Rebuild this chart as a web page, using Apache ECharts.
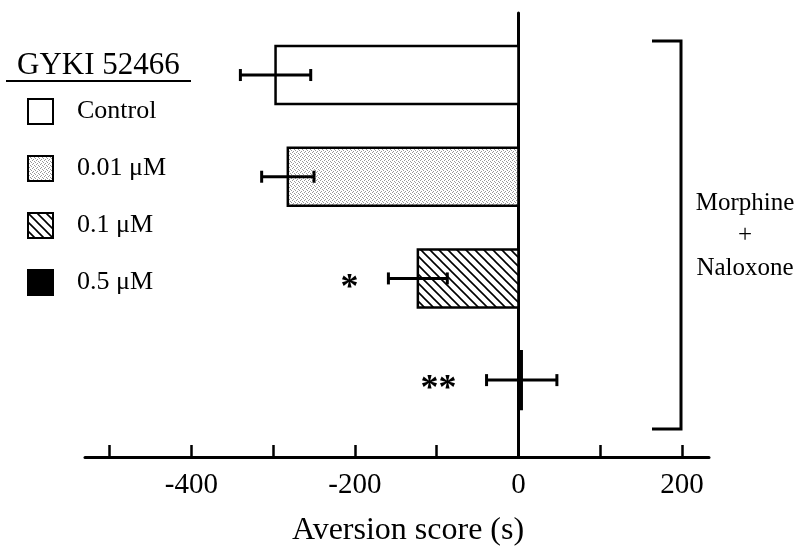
<!DOCTYPE html>
<html>
<head>
<meta charset="utf-8">
<script src="https://cdn.jsdelivr.net/npm/echarts@6/dist/echarts.min.js"></script>
<style>
html, body { margin: 0; padding: 0; background: #fff; }
#chart { width: 801px; height: 557px; }
</style>
</head>
<body>
<div id="chart"></div>
<script>
// data
var categories = ['Control', '0.01 μM', '0.1 μM', '0.5 μM'];
var means = [-297, -282, -123, 4];
var errors = [43, 32, 36, 43];
var stars = ['', '', '*', '**'];
var tickValues = [-500, -400, -300, -200, -100, 0, 100, 200];
var labelValues = [-400, -200, 0, 200];

var serif = '"Liberation Serif", "DejaVu Serif", serif';

// fill patterns
function dotCanvas() {
    var c = document.createElement('canvas');
    c.width = 4; c.height = 4;
    var ctx = c.getContext('2d');
    ctx.fillStyle = '#fff';
    ctx.fillRect(0, 0, 4, 4);
    ctx.fillStyle = '#999';
    [[0, 0], [2, 1], [1, 3], [3, 2]].forEach(function (p) {
        ctx.fillRect(p[0], p[1], 1, 1);
    });
    return c;
}
function hatchCanvas() {
    var s = 9;
    var c = document.createElement('canvas');
    c.width = s; c.height = s;
    var ctx = c.getContext('2d');
    ctx.fillStyle = '#fff';
    ctx.fillRect(0, 0, s, s);
    ctx.strokeStyle = '#000';
    ctx.lineWidth = 1.6;
    ctx.beginPath();
    ctx.moveTo(-1, -1); ctx.lineTo(s + 1, s + 1);
    ctx.moveTo(-1, s - 1); ctx.lineTo(1, s + 1);
    ctx.moveTo(s - 1, -1); ctx.lineTo(s + 1, 1);
    ctx.stroke();
    return c;
}

var fills = [
    '#fff',
    { image: dotCanvas(), repeat: 'repeat' },
    { image: hatchCanvas(), repeat: 'repeat' },
    '#000'
];

function renderBar(params, api) {
    var i = api.value(0), v = api.value(1), e = api.value(2);
    var p0 = api.coord([0, i]);
    var p1 = api.coord([v, i]);
    var lo = api.coord([v - e, i]);
    var hi = api.coord([v + e, i]);
    var h = api.size([0, 0.57])[1];
    var y = p0[1];
    var cap = 6;
    var children = [{
        type: 'rect',
        shape: { x: Math.min(p0[0], p1[0]), y: y - h / 2, width: Math.abs(p1[0] - p0[0]), height: h },
        style: { fill: fills[i], stroke: '#000', lineWidth: 2.5 }
    }, {
        type: 'line',
        shape: { x1: lo[0], y1: y, x2: hi[0], y2: y },
        style: { stroke: '#000', lineWidth: 3 }
    }, {
        type: 'line',
        shape: { x1: lo[0], y1: y - cap, x2: lo[0], y2: y + cap },
        style: { stroke: '#000', lineWidth: 3 }
    }, {
        type: 'line',
        shape: { x1: hi[0], y1: y - cap, x2: hi[0], y2: y + cap },
        style: { stroke: '#000', lineWidth: 3 }
    }];
    if (stars[i]) {
        children.push({
            type: 'text',
            style: {
                text: stars[i], x: lo[0] - 30, y: y + 10,
                align: 'right', verticalAlign: 'middle',
                font: 'bold 36px ' + serif, fill: '#000'
            }
        });
    }
    return { type: 'group', children: children };
}

var chart = echarts.init(document.getElementById('chart'));

var series = categories.map(function (name, i) {
    return {
        name: name,
        type: 'custom',
        renderItem: renderBar,
        clip: false,
        encode: { x: [1], y: [0] },
        data: [[i, means[i], errors[i]]]
    };
});

var option = {
    animation: false,
    backgroundColor: '#fff',
    title: {
        text: 'GYKI 52466',
        left: 17, top: 50, padding: 0,
        textStyle: { fontFamily: serif, fontSize: 31, fontWeight: 'normal', color: '#000' }
    },
    legend: {
        orient: 'vertical',
        left: 27, top: 98, padding: 0,
        itemWidth: 25, itemHeight: 25, itemGap: 30,
        icon: 'rect',
        selectedMode: false,
        textStyle: { fontFamily: serif, fontSize: 26, color: '#000', lineHeight: 25, padding: [0, 0, 0, 19] },
        data: categories.map(function (name, i) {
            return { name: name, itemStyle: { color: fills[i], borderColor: '#000', borderWidth: 2 } };
        })
    },
    grid: { left: 85, right: 92, top: 13, bottom: 100, containLabel: false },
    xAxis: {
        type: 'value',
        min: -530, max: 233,
        name: 'Aversion score (s)',
        nameLocation: 'middle',
        nameGap: 58,
        nameTextStyle: { fontFamily: serif, fontSize: 32, color: '#000', padding: [0, 0, 0, 22] },
        axisLine: { show: true, onZero: false, lineStyle: { color: '#000', width: 3 } },
        axisTick: { show: true, inside: true, length: 12, customValues: tickValues, lineStyle: { color: '#000', width: 2.5 } },
        axisLabel: { customValues: labelValues, fontFamily: serif, fontSize: 29, color: '#000', margin: 14 },
        splitLine: { show: false }
    },
    yAxis: {
        type: 'value',
        inverse: true,
        min: -0.61, max: 3.756,
        axisLine: { show: true, onZero: true, lineStyle: { color: '#000', width: 3 } },
        axisTick: { show: false },
        axisLabel: { show: false },
        splitLine: { show: false }
    },
    graphic: [{
        type: 'line',
        shape: { x1: 6, y1: 81, x2: 191, y2: 81 },
        style: { stroke: '#000', lineWidth: 2 }
    }, {
        type: 'polyline',
        shape: { points: [[652, 41], [681, 41], [681, 429], [652, 429]] },
        style: { stroke: '#000', lineWidth: 3, fill: null }
    }, {
        type: 'text',
        style: { text: 'Morphine', x: 745, y: 203, align: 'center', verticalAlign: 'middle', font: '25px ' + serif, fill: '#000' }
    }, {
        type: 'text',
        style: { text: '+', x: 745, y: 235, align: 'center', verticalAlign: 'middle', font: '25px ' + serif, fill: '#000' }
    }, {
        type: 'text',
        style: { text: 'Naloxone', x: 745, y: 268, align: 'center', verticalAlign: 'middle', font: '25px ' + serif, fill: '#000' }
    }],
    series: series
};

chart.setOption(option);
</script>
</body>
</html>
